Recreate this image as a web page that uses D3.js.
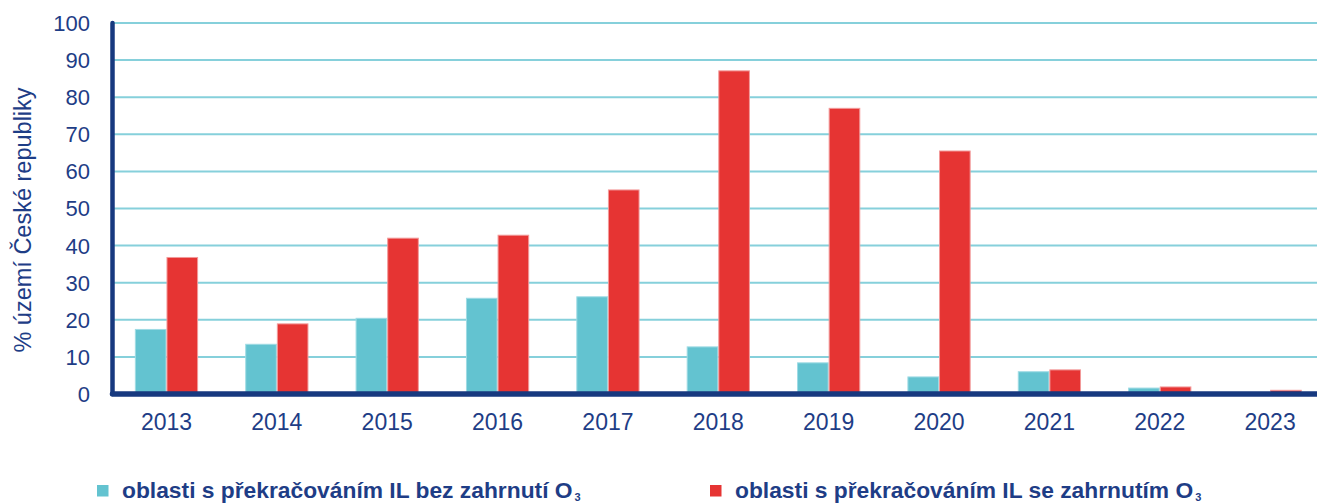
<!DOCTYPE html>
<html><head><meta charset="utf-8">
<script src="https://cdn.jsdelivr.net/npm/d3@7"></script>
<style>
html,body{margin:0;padding:0;background:#fff;}
svg{display:block;font-family:"Liberation Sans",Arial,sans-serif;}
</style></head>
<body>
<svg id="chart" width="1317" height="503"></svg>
<script>
const years = ["2013","2014","2015","2016","2017","2018","2019","2020","2021","2022","2023"];
const seriesNames = ["oblasti s překračováním IL bez zahrnutí O", "oblasti s překračováním IL se zahrnutím O"];
const valuesBez = [17.4, 13.4, 20.4, 25.8, 26.2, 12.7, 8.4, 4.6, 6.0, 1.6, 0.4];
const valuesSe  = [36.8, 18.9, 42.0, 42.8, 55.0, 87.1, 77.0, 65.5, 6.5, 1.9, 1.0];
const yTicks = [0,10,20,30,40,50,60,70,80,90,100];
const yTitle = "% území České republiky";

const W = 1317, H = 503;
const colors = ["#63c3d0", "#e63433"];
const strokeColors = ["#9fdbe4", "#f29a9a"];
const textColor = "#1e3d86";
const axisColor = "#17397f";
const gridColor = "#86d0db";

const svg = d3.select("#chart");
const left = 112.5, zeroY = 394, topY = 23;

const y = d3.scaleLinear().domain([0,100]).range([zeroY, topY]);
const x0 = d3.scaleBand().domain(years).range([111.3, 1325.3]).paddingInner(0.427).paddingOuter(0.2135);
const x1 = d3.scaleBand().domain([0,1]).range([0, x0.bandwidth()]);

// grid
svg.append("g").selectAll("line").data(yTicks.filter(d => d > 0)).join("line")
  .attr("x1", left).attr("x2", W)
  .attr("y1", d => y(d)).attr("y2", d => y(d))
  .attr("stroke", gridColor).attr("stroke-width", 2);

// y tick labels
svg.append("g").selectAll("text").data(yTicks).join("text")
  .attr("x", 90).attr("y", d => y(d)).attr("dy", "0.36em")
  .attr("text-anchor", "end").attr("font-size", 22).attr("fill", textColor)
  .text(d => d);

// bars
const data = years.map((yr, i) => ({ yr, vals: [valuesBez[i], valuesSe[i]] }));
const groups = svg.append("g").selectAll("g").data(data).join("g")
  .attr("transform", d => `translate(${x0(d.yr)},0)`);
groups.selectAll("rect").data(d => d.vals.map((v, k) => ({ v, k }))).join("rect")
  .attr("x", d => x1(d.k) + 0.5)
  .attr("width", x1.bandwidth() - 1)
  .attr("y", d => y(d.v))
  .attr("height", d => zeroY - y(d.v))
  .attr("fill", d => colors[d.k])
  .attr("stroke", d => strokeColors[d.k])
  .attr("stroke-width", 1);

// axes lines
svg.append("line").attr("x1", left).attr("x2", left).attr("y1", topY).attr("y2", zeroY)
  .attr("stroke", axisColor).attr("stroke-width", 4.5).attr("stroke-linecap", "round");
svg.append("line").attr("x1", left).attr("x2", W).attr("y1", zeroY).attr("y2", zeroY)
  .attr("stroke", axisColor).attr("stroke-width", 5.5).attr("stroke-linecap", "round");

// x labels
svg.append("g").selectAll("text").data(years).join("text")
  .attr("x", d => x0(d) + x0.bandwidth() / 2).attr("y", 430)
  .attr("text-anchor", "middle").attr("font-size", 23).attr("fill", textColor)
  .text(d => d);

// y title
svg.append("text")
  .attr("transform", "translate(31,220) rotate(-90)")
  .attr("text-anchor", "middle").attr("font-size", 23.5).attr("fill", textColor)
  .text(yTitle);

// legend
const legendX = [97, 710];
const lg = svg.append("g").selectAll("g").data(seriesNames).join("g")
  .attr("transform", (d, i) => `translate(${legendX[i]},0)`);
lg.append("rect").attr("x", 0).attr("y", 485).attr("width", 11.5).attr("height", 11.5)
  .attr("fill", (d, i) => colors[i]);
const lt = lg.append("text").attr("x", 25).attr("y", 498)
  .attr("font-size", 22.8).attr("font-weight", "bold").attr("fill", textColor);
lt.append("tspan").text(d => d);
lt.append("tspan").attr("font-size", 11).attr("dy", 3).attr("dx", 2).text("3");
</script>
</body></html>
